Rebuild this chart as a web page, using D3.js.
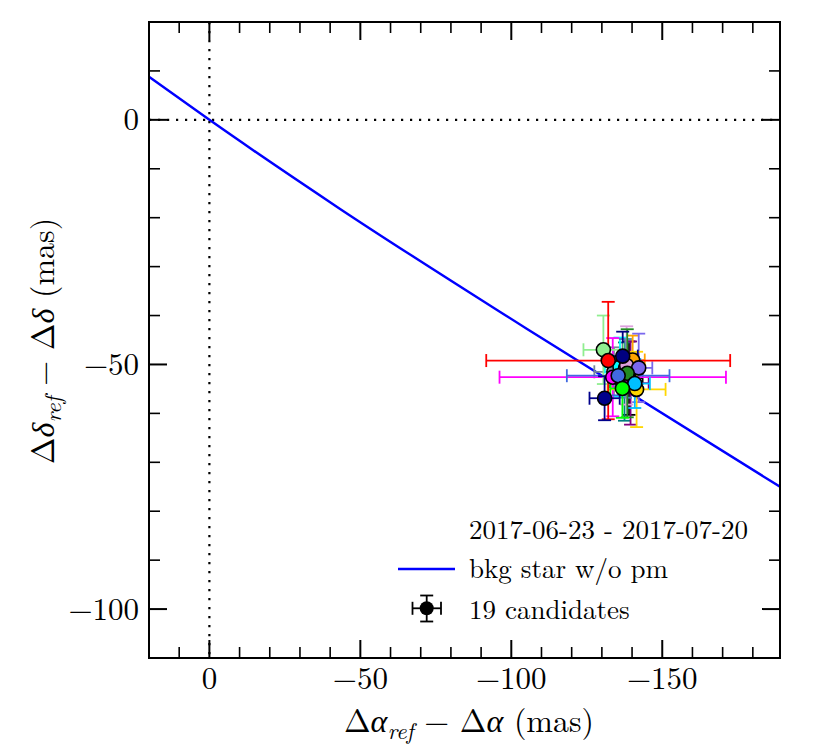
<!DOCTYPE html>
<html><head><meta charset="utf-8">
<script src="https://cdn.jsdelivr.net/npm/d3@7"></script>
<style>
html,body{margin:0;padding:0;background:#fff;}
</style></head>
<body>
<svg id="chart" width="830" height="747"></svg>
<script>
// ---- data ----
const candColors = ["black","teal","lightslategray","purple","cyan","steelblue","orange","plum",
  "mediumslateblue","forestgreen","magenta","royalblue","gold","deepskyblue","lime","navy",
  "lightgreen","red","darkblue"];
const candDx   = [-139.0,-137.5,-134.0,-139.5,-136.0,-137.8,-140.2,-138.2,-142.2,-138.4,-133.6,-135.4,-141.5,-140.9,-136.8,-136.9,-130.5,-132.1,-130.9];
const candDy   = [-52.8,-53.5,-51.5,-53.8,-50.5,-50.8,-49.1,-50.2,-50.7,-51.8,-52.6,-52.3,-55.1,-53.9,-54.9,-48.3,-47.0,-49.2,-56.9];
const candDxErr= [4.5,5,6.5,6,5,5,4,5,4.5,4,37.5,17,9.6,5,4,5,6.6,40.4,5];
const candDyErr= [7.5,8,5,8.5,6,6,5,8,7,9,8,4,7.7,5,6,5,7,12,4.5];
const trackX = [20, 0, -43.3, -105.1, -189];
const trackY = [8.8, 0, -18.2, -42.7, -75.0];
const xMajorTicks = [0, -50, -100, -150];
const yMajorTicks = [0, -50, -100];
const legendDate = "2017-06-23 - 2017-07-20";
const legendTrack = "bkg star w/o pm";
const legendCand = "19 candidates";

// ---- layout ----
const FONT = "'Latin Modern Roman','CMU Serif','Liberation Serif',serif";
const L=149, R=780, T=22, B=658;
const svg = d3.select("#chart").style("font-family", FONT);
svg.append("rect").attr("width",830).attr("height",747).attr("fill","#fff");
const x = d3.scaleLinear().domain([20,-189]).range([L,R]);
const y = d3.scaleLinear().domain([20,-110]).range([T,B]);

const plot = svg.append("g");
svg.append("clipPath").attr("id","clip").append("rect")
  .attr("x",L).attr("y",T).attr("width",R-L).attr("height",B-T);
const inner = plot.append("g").attr("clip-path","url(#clip)");

// dotted zero lines
inner.append("line").attr("x1",x(0)).attr("x2",x(0)).attr("y1",T).attr("y2",B)
  .attr("stroke","#000").attr("stroke-width",2.2).attr("stroke-dasharray","2.2,6.8");
inner.append("line").attr("x1",L).attr("x2",R).attr("y1",y(0)).attr("y2",y(0))
  .attr("stroke","#000").attr("stroke-width",2.2).attr("stroke-dasharray","2.2,6.8");

// track line
const track = trackX.map((v,i)=>[v,trackY[i]]);
inner.append("path").datum(track)
  .attr("d", d3.line().curve(d3.curveMonotoneX).x(d=>x(d[0])).y(d=>y(d[1])))
  .attr("fill","none").attr("stroke","#0000ff").attr("stroke-width",2.4);

// candidates
const cands = candColors.map((c,i)=>({c, x:candDx[i], y:candDy[i], xe:candDxErr[i], ye:candDyErr[i]}));
const cap = 6.5, ew = 1.8;
function errbar(g, cx, cy, x0, x1, y0, y1, col){
  g.append("line").attr("x1",x0).attr("x2",x1).attr("y1",cy).attr("y2",cy).attr("stroke",col).attr("stroke-width",ew);
  g.append("line").attr("x1",cx).attr("x2",cx).attr("y1",y0).attr("y2",y1).attr("stroke",col).attr("stroke-width",ew);
  [x0,x1].forEach(xx=>g.append("line").attr("x1",xx).attr("x2",xx).attr("y1",cy-cap).attr("y2",cy+cap).attr("stroke",col).attr("stroke-width",ew));
  [y0,y1].forEach(yy=>g.append("line").attr("x1",cx-cap).attr("x2",cx+cap).attr("y1",yy).attr("y2",yy).attr("stroke",col).attr("stroke-width",ew));
}
const eg = inner.append("g");
cands.forEach(d=>{
  errbar(eg, x(d.x), y(d.y), x(d.x+d.xe), x(d.x-d.xe), y(d.y+d.ye), y(d.y-d.ye), d.c);
});
inner.append("g").selectAll("circle").data(cands).join("circle")
  .attr("cx",d=>x(d.x)).attr("cy",d=>y(d.y)).attr("r",7)
  .attr("fill",d=>d.c).attr("stroke","#000").attr("stroke-width",1.6);

// ticks (inward, all four sides)
const tg = plot.append("g").attr("stroke","#000");
const xMinor = d3.range(20,-190,-10), yMinor = d3.range(20,-111,-10);
const MJ=18, MN=11;
xMinor.forEach(v=>{
  const maj = xMajorTicks.includes(v); const len = maj?MJ:MN; const w = maj?2:1.6;
  tg.append("line").attr("x1",x(v)).attr("x2",x(v)).attr("y1",B).attr("y2",B-len).attr("stroke-width",w);
  tg.append("line").attr("x1",x(v)).attr("x2",x(v)).attr("y1",T).attr("y2",T+len).attr("stroke-width",w);
});
yMinor.forEach(v=>{
  const maj = yMajorTicks.includes(v); const len = maj?MJ:MN; const w = maj?2:1.6;
  tg.append("line").attr("y1",y(v)).attr("y2",y(v)).attr("x1",L).attr("x2",L+len).attr("stroke-width",w);
  tg.append("line").attr("y1",y(v)).attr("y2",y(v)).attr("x1",R).attr("x2",R-len).attr("stroke-width",w);
});
// frame
plot.append("rect").attr("x",L).attr("y",T).attr("width",R-L).attr("height",B-T)
  .attr("fill","none").attr("stroke","#000").attr("stroke-width",2);

// tick labels
const fmt = v => v<0 ? "\u2212"+Math.abs(v) : String(v);
xMajorTicks.forEach(v=>{
  svg.append("text").attr("x",x(v)).attr("y",689).attr("text-anchor","middle")
    .style("font-family",FONT).attr("font-size",31).text(fmt(v));
});
yMajorTicks.forEach(v=>{
  svg.append("text").attr("x",139).attr("y",y(v)+10.5).attr("text-anchor","end")
    .style("font-family",FONT).attr("font-size",31).text(fmt(v));
});

// axis titles
function mathLabel(t, sym){
  t.append("tspan").text("\u0394");
  t.append("tspan").attr("font-style","italic").text(sym);
  t.append("tspan").attr("font-style","italic").attr("font-size",23).attr("dy",7).text("ref");
  t.append("tspan").attr("dy",-7).text(" \u2212 \u0394");
  t.append("tspan").attr("font-style","italic").text(sym);
  t.append("tspan").text(" (mas)");
}
const xt = svg.append("text").attr("x",469).attr("y",732).attr("text-anchor","middle")
  .style("font-family",FONT).attr("font-size",32);
mathLabel(xt, "\u03b1");
const yt = svg.append("text").attr("transform","translate(54,341) rotate(-90)").attr("text-anchor","middle")
  .style("font-family",FONT).attr("font-size",32);
mathLabel(yt, "\u03b4");

// legend
svg.append("text").attr("x",469).attr("y",539).style("font-family",FONT).attr("font-size",27).text(legendDate);
svg.append("line").attr("x1",398).attr("x2",455).attr("y1",569).attr("y2",569)
  .attr("stroke","#0000ff").attr("stroke-width",2.4);
svg.append("text").attr("x",469).attr("y",578).style("font-family",FONT).attr("font-size",27).text(legendTrack);
const lg = svg.append("g");
errbar(lg, 426.7, 608.3, 412.5, 441, 595.5, 621.5, "#000");
lg.append("circle").attr("cx",426.7).attr("cy",608.3).attr("r",7).attr("fill","#000");
svg.append("text").attr("x",469).attr("y",619).style("font-family",FONT).attr("font-size",27).text(legendCand);
</script>
</body></html>
